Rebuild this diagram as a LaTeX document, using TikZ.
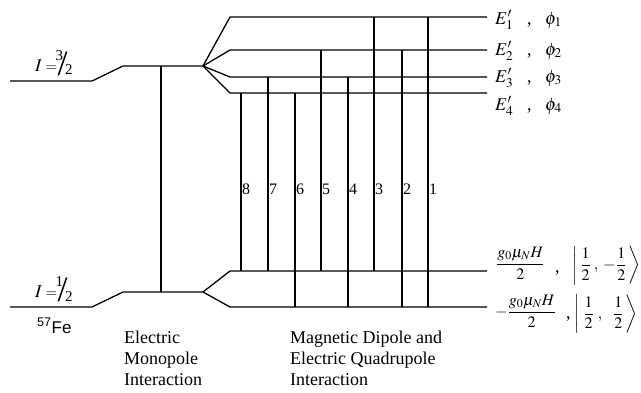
\documentclass[tikz,border=0pt]{standalone}
\usepackage{mathptmx}
\usepackage{fontspec}
\setmainfont{Liberation Serif}
\newfontfamily\timesfont{Liberation Serif}
\newfontfamily\arialfont{Liberation Sans}
\begin{document}
\begin{tikzpicture}[x=1pt,y=-1pt,
  lvl/.style={line width=1.3pt, line join=miter},
  tr/.style={line width=1.3pt},
  lab/.style={inner sep=0pt, font=\timesfont\fontsize{18}{21}\selectfont},
  sm/.style={inner sep=0pt, font=\timesfont\fontsize{15}{18}\selectfont, anchor=base west},
  mth/.style={inner sep=0pt, font=\timesfont\fontsize{16}{20}\selectfont},
  num/.style={inner sep=0pt, font=\timesfont\fontsize{16}{18}\selectfont, anchor=base west},
  sl/.style={inner sep=0pt, font=\timesfont\fontsize{18}{18}\selectfont, anchor=base west}]
\path[use as bounding box] (0,0) rectangle (641,392);
% coordinates of the levels
\coordinate (U0) at (10,81);  \coordinate (U1) at (92,81);
\coordinate (U2) at (123,66); \coordinate (U3) at (203,66);
\coordinate (D0) at (10,307); \coordinate (D1) at (92,307);
\coordinate (D2) at (123,292); \coordinate (D3) at (203,292);
\coordinate (E1) at (230,17); \coordinate (E1r) at (487,17);
\coordinate (E2) at (230,50); \coordinate (E2r) at (487,50);
\coordinate (E3) at (230,77); \coordinate (E3r) at (487,77);
\coordinate (E4) at (230,93); \coordinate (E4r) at (487,93);
\coordinate (La) at (230,271); \coordinate (Lar) at (487,271);
\coordinate (Lb) at (230,307); \coordinate (Lbr) at (487,307);
\coordinate (M) at (161,0);
% levels
\draw[lvl] (U0) -- (U1) -- (U2) -- (U3);
\draw[lvl] (D0) -- (D1) -- (D2) -- (D3);
\foreach \e in {E1,E2,E3,E4} \draw[lvl] (U3) -- (\e) -- (\e r);
\foreach \e in {La,Lb} \draw[lvl] (D3) -- (\e) -- (\e r);
% monopole
\draw[tr] (M |- U3) -- (M |- D3);
% transitions
\foreach \n/\x/\a/\b in {8/241/E4/La, 7/268/E3/La, 6/295/E4/Lb, 5/321/E2/La,
                         4/348/E3/Lb, 3/374/E1/La, 2/402/E2/Lb, 1/428/E1/Lb} {
  \coordinate (t\n) at (\x,0);
  \draw[tr] (t\n |- \a) -- (t\n |- \b);
  \node[num] (n\n) at (\x+0.8,194) {\n};
}
% spin labels
\node[lab, anchor=base west] (Ia) at (35,71) {$I$};
\node[sm] (Iaq) at (45.5,71) {$=$};
\node[sm] (Ian) at (55.5,60) {3};
\node[sl] (Ias) at (57.5,75.5) {\resizebox{10pt}{23.5pt}{/}};
\node[sm] (Iad) at (65,74) {2};
\node[lab, anchor=base west] (Ib) at (35,297) {$I$};
\node[sm] (Ibq) at (45.5,297) {$=$};
\node[sm] (Ibn) at (55.5,286) {1};
\node[sl] (Ibs) at (57.5,301.5) {\resizebox{10pt}{23.5pt}{/}};
\node[sm] (Ibd) at (65,301) {2};
\node[lab, anchor=base west] (fe) at (37,333) {\arialfont\fontsize{17}{20}\selectfont\textsuperscript{57}Fe};
% right labels, upper
\foreach \i/\y in {1/24, 2/55, 3/82, 4/110} {
  \node[lab, anchor=base west] (E\i l) at (495,\y) {$E'_{\i}$};
  \node[lab, anchor=base west] (c\i) at (527,\y) {,};
  \node[lab, anchor=base west] (p\i) at (545,\y) {$\phi_{\i}$};
}
% right labels, lower
\node[mth, anchor=west] (fa) at (496,263) {$\displaystyle\frac{g_0\mu_N H}{2}$};
\node[lab, anchor=base west] (ca) at (555,272) {,};
\node[mth, anchor=west] (ka) at (572,265.5) {$\displaystyle\left|\kern3pt\frac12\kern3pt,\kern3pt{-}\kern0.5pt\frac12\kern2pt\right\rangle$};
\node[mth, anchor=west] (fb) at (495,311) {$\displaystyle-\frac{g_0\mu_N H}{2}$};
\node[lab, anchor=base west] (cb) at (566,318) {,};
\node[mth, anchor=west] (kb) at (574,314) {$\displaystyle\left|\kern4pt\frac12\kern4pt,\kern9pt\frac12\kern2pt\right\rangle$};
% bottom captions
\node[lab, anchor=base west, align=left] (cap1) at (124,385) {Electric\\Monopole\\Interaction};
\node[lab, anchor=base west, align=left] (cap2) at (290,385) {Magnetic Dipole and\\Electric Quadrupole\\Interaction};
\end{tikzpicture}
\end{document}
